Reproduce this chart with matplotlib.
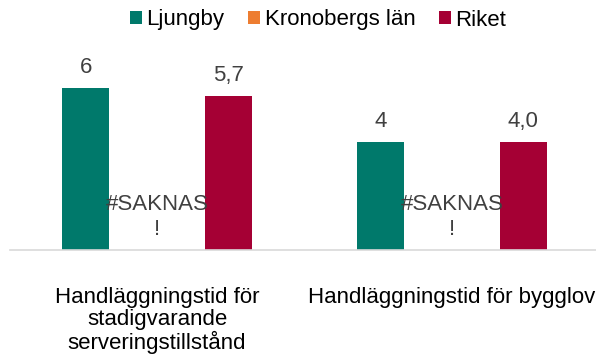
import matplotlib.pyplot as plt
import numpy as np
from matplotlib.patches import Patch

plt.rcParams["font.family"] = ["Liberation Sans", "DejaVu Sans"]

# Handläggningstid (dagar) per ärendetyp
categories = [
    "Handläggningstid för\nstadigvarande\nserveringstillstånd",
    "Handläggningstid för bygglov",
]
series_names = ["Ljungby", "Kronobergs län", "Riket"]
ljungby = [6, 4]
kronoberg = [np.nan, np.nan]
riket = [5.7, 4.0]
value_labels = [["6", "4"], ["#SAKNAS\n!", "#SAKNAS\n!"], ["5,7", "4,0"]]
colors = ["#00796B", "#ED7D31", "#A50034"]

fig = plt.figure(figsize=(5.96, 3.54), dpi=100)
ax = fig.add_axes([9.5 / 596, 104 / 354, 590 / 596, 189 / 354])

x = np.arange(len(categories))
offset = 0.242
width = 0.159
series = [ljungby, kronoberg, riket]

for i, (vals, col, labs) in enumerate(zip(series, colors, value_labels)):
    pos = x + (i - 1) * offset
    heights = np.nan_to_num(np.array(vals, dtype=float))
    ax.bar(pos, heights, width=width, color=col)
    for p, h, lab in zip(pos, heights, labs):
        ax.annotate(lab, (p, h), xytext=(0, 7), textcoords="offset points",
                    ha="center", va="bottom", fontsize=16, color="#404040",
                    linespacing=1.25)

ax.set_xlim(-0.5, 1.5)
ax.set_ylim(0, 7)
ax.set_yticks([])
ax.set_xticks(x)
ax.set_xticklabels(categories, fontsize=16, color="#000000", linespacing=1.05, va="top")
ax.tick_params(axis="x", length=0, pad=27)
for side in ["top", "right", "left"]:
    ax.spines[side].set_visible(False)
ax.spines["bottom"].set_color("#D9D9D9")
ax.spines["bottom"].set_linewidth(1.2)

handles = [Patch(facecolor=c, label=n) for c, n in zip(colors, series_names)]
fig.legend(handles=handles, loc="center", bbox_to_anchor=(318 / 596, 1 - 20 / 354),
           ncol=3, frameon=False, fontsize=16, handlelength=0.55, handleheight=0.55,
           handletextpad=0.2, columnspacing=1.05)

fig.savefig("out.png", dpi=100)
